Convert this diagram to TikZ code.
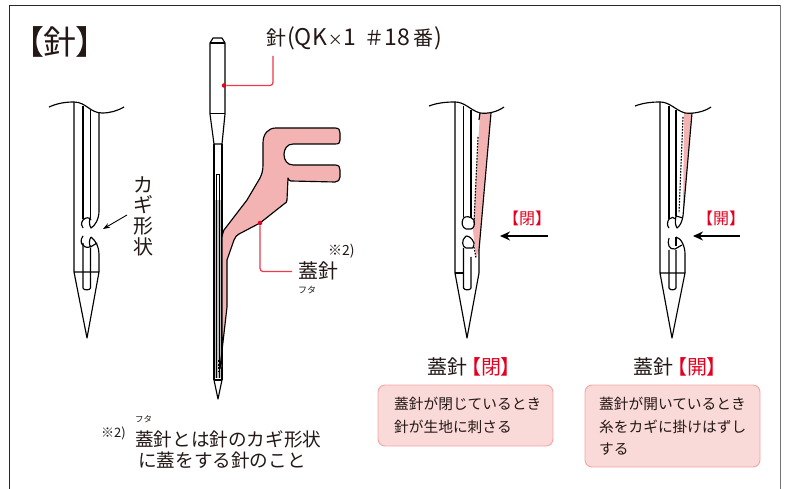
\documentclass[tikz,border=0pt]{standalone}
\usepackage{fontspec}
\usetikzlibrary{arrows.meta}
\setmainfont{Noto Sans CJK JP}
\definecolor{needlepink}{HTML}{F4B3B3}
\definecolor{boxfill}{HTML}{FAD9D9}
\definecolor{boxline}{HTML}{F4A6A3}
\definecolor{inkred}{HTML}{E60020}
\definecolor{leadred}{HTML}{EE3A4A}
\definecolor{inktext}{HTML}{231815}
\newcommand{\fs}[1]{\fontsize{#1}{#1}\selectfont}
\tikzset{
  line/.style={draw=black,line width=1.15pt,line join=round},
  txt/.style={inner sep=0pt,text=inktext,anchor=west},
  redtxt/.style={inner sep=0pt,text=inkred},
  note/.style={draw=boxline,fill=boxfill,rounded corners=7pt,line width=0.9pt,inner sep=0pt},
  lead/.style={draw=leadred,line width=1.2pt,rounded corners=3pt},
  bigarrow/.style={draw=black,line width=1.7pt,-{Stealth[length=10pt,width=9pt]}},
  reddot/.style={circle,fill=inkred,inner sep=0pt,minimum size=4.5pt},
  dots/.style={line,dash pattern=on 1.6pt off 1.4pt}
}
\begin{document}
\begin{tikzpicture}[x=1pt,y=-1pt]
\useasboundingbox (0,0) rectangle (785,489);
\fill[white] (0,0) rectangle (785,489);
\draw[line width=0.9pt,draw=black!85] (9.5,489) -- (9.5,5.5) -- (780.5,5.5);
\draw[line width=1.1pt,draw=black!55] (780.5,5.5) -- (780.5,489);

\node[txt] (title) at (11,42) {\fs{33}【\kern-1pt 針\kern-1pt 】};

% left needle
\draw[line] (49,107) .. controls (58,103) and (66,102) .. (74,102) .. controls (86,102) and (90,113) .. (102,113) .. controls (110,113) and (117,111) .. (124,107);
\draw[line] (74,102) -- (74,272) -- (87,338) -- (99,272) -- (74,272);
\draw[line] (83,106) -- (83,219);
\draw[line] (90.5,110) -- (90.5,218);
\draw[line] (99,113) -- (99,211) .. controls (99,219) and (95,226) .. (91,228) .. controls (89,225) and (89,220) .. (90.5,217);
\draw[line] (83,220) .. controls (86,217) and (89,217) .. (91,220);
\draw[line] (83,220) .. controls (81,223) and (81,226) .. (83,228);
\draw[line] (83,243) -- (83,288) .. controls (83,290.5) and (90.5,290.5) .. (90.5,288) -- (90.5,248);
\draw[line] (91,237) .. controls (96,241) and (99,247) .. (99,254) -- (99,272);
\draw[line] (91,237) .. controls (89,240) and (89,244) .. (90.5,247) -- (97,243);
\draw[line] (83,236) .. controls (80,240) and (81,244) .. (83,245) .. controls (85,248) and (89,248) .. (91,246);

\node[txt] (k1) at (133,185) {\fs{20}カ};
\node[txt] (k2) at (133,205) {\fs{20}ギ};
\node[txt] (k3) at (133,226) {\fs{20}形};
\node[txt] (k4) at (133,247) {\fs{20}状};
\coordinate (hookpt) at (103,229);
\coordinate (hookst) at (127,215);
\draw[draw=black,line width=0.9pt,-{Stealth[length=7pt,width=5pt]}] (hookst) -- (hookpt);

% centre needle
\draw[line] (214,144) -- (210,114) -- (210,43) -- (213,38) -- (222,38) -- (225,43) -- (225,114) -- (222,144) -- cycle;
\draw[line] (210,43) -- (225,43);
\draw[line] (210,113.5) -- (225,113.5);
\draw[line] (214,144) -- (214,380) -- (218,399) -- (222,380) -- (222,144);
\fill[black!25] (214,200) rectangle (222,378);
\draw[line width=0.7pt] (216.7,174) -- (216.7,378) (219.3,174) -- (219.3,378) (216.7,174) -- (219.3,174);
\draw[line] (214,144) -- (214,380);
\draw[line] (222,144) -- (222,380);

% latch
\draw[line,fill=needlepink] (276,128) -- (335,128) .. controls (339,128) and (340,130) .. (340,133) -- (340,140) .. controls (340,143) and (339,144) .. (335,144) -- (293,144) .. controls (281,144) and (281,165) .. (293,165) -- (335,165) .. controls (339,165) and (340,167) .. (340,170) -- (340,177) .. controls (340,180) and (338,182) .. (335,182) -- (291,181) .. controls (289,181) and (288,179) .. (288,178) -- (287,200) .. controls (287,202) and (286,203) .. (284,204) -- (260,223) -- (239,234) .. controls (237,235) and (235,237) .. (234,240) -- (227,260) -- (227,307) -- (220,368) -- (222,368) -- (222,240) .. controls (222,235) and (223,232) .. (224,230) -- (247,200) -- (260,178) .. controls (262,174) and (263,170) .. (263,165) -- (263,143) .. controls (263,134) and (268,128) .. (276,128) -- cycle;
\draw[line] (214,380) -- (222,380);
\draw[line,dash pattern=on 2pt off 1.5pt] (219,360) -- (219,372);

\node[reddot] (d1) at (224,85.5) {};
\coordinate (l1) at (273,56);
\draw[lead] (d1) -- (273,85.5) -- (l1);
\node[reddot] (d2) at (260,223) {};
\coordinate (l2) at (292,271.5);
\draw[lead] (d2) -- (260,271.5) -- (l2);
\node[txt] (nlabel) at (266,38) {\fs{20}針\kern1pt{\fs{23}(QK}\kern1pt{\fs{15}×}\kern1pt{\fs{23}1}\kern8pt{\fs{20}＃}{\fs{23}18}\kern3pt{\fs{20}番}\kern1pt{\fs{23})}};
\node[txt] (lat) at (298,271) {\fs{20}蓋針};
\node[txt] (latr) at (298,290) {\fs{9}フタ};
\node[txt] (lat2) at (328,251) {\fs{14}※2)};

% closed needle
\fill[needlepink] (480,113) -- (491,113) -- (479,250) -- (476,258) -- (473,230) -- cycle;
\draw[line] (429,106) .. controls (437,103) and (445,102) .. (455,102) .. controls (465,102) and (470,110) .. (480,113) .. controls (488,114) and (497,112) .. (504,107);
\draw[line] (455,102) -- (455,273) -- (467,338) -- (479,273) -- (479,250);
\draw[line] (455,273) -- (464,273);
\draw[line] (463.5,106) -- (463.5,217) (471,110) -- (471,218);
\draw[line] (480,113) -- (479,120);
\draw[line] (463.5,218) .. controls (466,216) and (470,216) .. (474,220);
\draw[line] (463.5,218) .. controls (461,222) and (462,228) .. (466,229) -- (471,229) .. controls (474,228) and (475,225) .. (474,220);
\draw[line] (463.5,248) -- (463.5,288) .. controls (464,290.5) and (470.5,290.5) .. (471,288) -- (471,257);
\draw[line] (466,236) .. controls (469,236) and (472,238) .. (474,243) .. controls (474,246) and (473,249) .. (471,248) -- (466,248) .. controls (462,247) and (461,240) .. (466,236);
\draw[line] (491,113) -- (479,250);
\draw[dots] (478,137) -- (474,223);
\draw[dots] (474,247) -- (476,258);

\coordinate (a1s) at (548,236);
\coordinate (a1e) at (500,236);
\draw[bigarrow] (a1s) -- (a1e);
\node[redtxt] (closed) at (527,218) {\fs{16}【閉】};

% open needle
\fill[needlepink] (684,113) -- (692,113) -- (683,216) -- cycle;
\draw[line] (635,106) .. controls (643,103) and (651,102) .. (660,102) .. controls (670,102) and (675,110) .. (685,113) .. controls (693,114) and (704,112) .. (711,107);
\draw[line] (660,102) -- (660,273) -- (672,338) -- (685,273) -- (660,273);
\draw[line] (669,106) -- (669,219);
\draw[line] (676,110) -- (676,216);
\draw[line] (692,113) -- (683,216) .. controls (682,222) and (680,226) .. (677,228) .. controls (675,225) and (675,220) .. (676,216) -- (683,218);
\draw[dots] (683,117) -- (679,213);
\draw[line] (669,219) .. controls (671,217) and (674,217) .. (676,219);
\draw[line] (669,219) .. controls (667,222) and (667,226) .. (669,228);
\draw[line] (676,237) .. controls (681,238) and (685,246) .. (685,254) -- (685,273);
\draw[line] (676,237) -- (676,246);
\draw[line] (669,250) -- (669,288) .. controls (670,290.5) and (675,290.5) .. (676,288) -- (676,250);
\draw[line] (669,238) .. controls (667,244) and (669,250) .. (675,249) -- (682,245);

\coordinate (a2s) at (740,236);
\coordinate (a2e) at (693,236);
\draw[bigarrow] (a2s) -- (a2e);
\node[redtxt] (open) at (721,218) {\fs{16}【開】};

% headers
\node[txt] (h1) at (427,367) {\fs{20}蓋針\kern-6pt\textcolor{inkred}{【閉\kern-1pt 】}};
\node[txt] (h2) at (633,367) {\fs{20}蓋針\kern-6pt\textcolor{inkred}{【開\kern-1pt 】}};

% boxes
\node[note,minimum width=175pt,minimum height=61pt] (b1) at (465.5,415.5) {};
\node[note,minimum width=175pt,minimum height=82pt] (b2) at (672.5,426) {};
\node[txt] (b1a) at (394,404) {\fs{14.7}蓋針が閉じているとき};
\node[txt] (b1b) at (394,427) {\fs{14.7}針が生地に刺さる};
\node[txt] (b2a) at (599,404) {\fs{14.7}蓋針が開いているとき};
\node[txt] (b2b) at (599,427) {\fs{14.7}糸をカギに掛けはずし};
\node[txt] (b2c) at (599,449) {\fs{14.7}する};

% footnote
\node[txt] (fr) at (135,419.5) {\fs{8.5}フタ};
\node[txt] (fm) at (101,433) {\fs{13}※2)};
\node[txt] (f1) at (135,439) {\fs{18.6}蓋針とは針のカギ形状};
\node[txt] (f2) at (138,460) {\fs{18.6}に蓋をする針のこと};
\end{tikzpicture}
\end{document}
